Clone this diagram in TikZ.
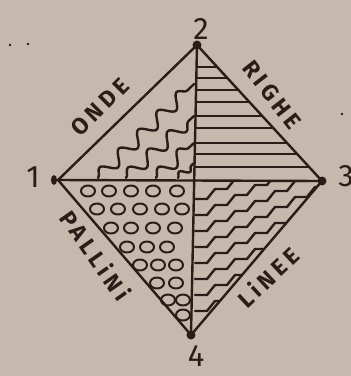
\documentclass[tikz,border=0pt]{standalone}
\usepackage{fontspec}
\newfontfamily\handfont[LetterSpace=18]{Fira Sans}
\usetikzlibrary{decorations.pathmorphing}
\definecolor{paper}{HTML}{C5B9AE}
\definecolor{ink}{HTML}{2A1C17}

\begin{document}
\begin{tikzpicture}[x=1pt,y=-1pt,color=ink,line width=2.4pt,line cap=round,line join=round,
  wave/.style={decorate,decoration={snake,segment length=27pt,amplitude=6.5pt}},
  blob/.style={line width=2pt},
  lbl/.style={font=\handfont\bfseries\fontsize{23}{23}\selectfont,inner sep=0pt},
  num/.style={font=\handfont\fontsize{31}{31}\selectfont,inner sep=0pt}]
  \fill[paper] (0,0) rectangle (351,376);
  \useasboundingbox (0,0) rectangle (351,376);
  \coordinate (v1) at (58,180);
  \coordinate (v2) at (197,45);
  \coordinate (v3) at (322,181);
  \coordinate (v4) at (191,335);
  \coordinate (c) at (195,180);
  \draw (v1) -- (v2) -- (v3) -- (v4) -- cycle;
  \draw (v1) -- (v3);
  \draw (v2) -- (v4);
  \begin{scope}
    \clip (v2) -- (v3) -- (c) -- cycle;
    \foreach \y in {67,78,90,102,116,128,143,154,167}
      \draw (190,\y) -- (330,\y);
  \end{scope}
  \coordinate (w1a) at (98,178);  \coordinate (w1b) at (194,84);
  \coordinate (w2a) at (126,178); \coordinate (w2b) at (194,116);
  \coordinate (w3a) at (156,178); \coordinate (w3b) at (194,143);
  \coordinate (w4a) at (178,178); \coordinate (w4b) at (194,163);
  \draw[wave] (w1a) -- (w1b);
  \draw[wave] (w2a) -- (w2b);
  \draw[wave] (w3a) -- (w3b);
  \draw[wave,decoration={segment length=16pt,amplitude=4pt}] (w4a) -- (w4b);
  \foreach \y/\xs in {191/{88,109,131,153,177},209/{97,118,140,162,182},
      228/{111,131,153,175},247/{127,147,167},265/{140,158,176},
      283/{157,176},300/{168,183},315/{183}}
    \foreach \x in \xs
      \draw[blob] (\x,\y) ellipse[x radius=7,y radius=5.5];
  \begin{scope}
    \clip (c) -- (v3) -- (v4) -- cycle;
    \foreach \y in {199,215,231,247,263,279,295,311}
      \draw (195,\y) \foreach \k in {1,...,7}{ -- ++(12,0) -- ++(8,-10) };
  \end{scope}
  \fill (v2) circle[radius=4.5];
  \fill (v3) circle[radius=4.5];
  \fill (v4) circle[radius=4.5];
  \fill (54,180) ellipse[x radius=3,y radius=5];
  \fill (10,45) circle[radius=1.3];
  \fill (28,44) circle[radius=1.3];
  \fill (342,114) circle[radius=1.3];
  \node[lbl,rotate=45] (onde) at (100,107) {ONDE};
  \node[lbl,rotate=-52] (righe) at (272,95) {RIGHE};
  \node[lbl,rotate=-55] (pallini) at (96,255) {PALLiNi};
  \node[lbl,rotate=43] (linee) at (268,277) {LiNEE};
  \node[num] (n1) at (33,177) {1};
  \node[num] (n2) at (201,29) {2};
  \node[num] (n3) at (346,176) {3};
  \node[num] (n4) at (196,356) {4};
\end{tikzpicture}
\end{document}
